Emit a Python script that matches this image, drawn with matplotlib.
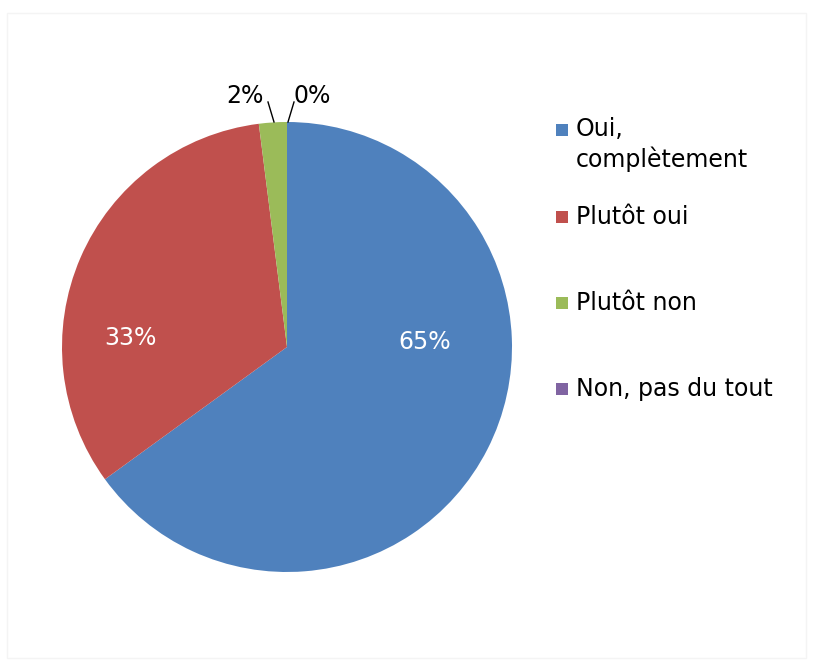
import matplotlib
matplotlib.use("Agg")
import matplotlib.pyplot as plt
from matplotlib.patches import Rectangle

plt.rcParams['font.family'] = ['DejaVu Sans']

# reponses et parts (en %)
categories = ["Oui,\ncomplètement", "Plutôt oui", "Plutôt non", "Non, pas du tout"]
valeurs = [65, 33, 2, 0]
couleurs = ["#4F81BD", "#C0504D", "#9BBB59", "#8064A2"]

W, H = 813, 668
fig = plt.figure(figsize=(W / 100, H / 100), dpi=100)
ax = fig.add_axes([0, 0, 1, 1])

# camembert en coordonnees pixels (y vers le haut)
cx, cy, r = 287, H - 347, 225
wedges, _ = ax.pie(valeurs, colors=couleurs, startangle=90, counterclock=False,
                   center=(cx, cy), radius=r, frame=True,
                   wedgeprops=dict(linewidth=0))
ax.set_xlim(0, W)
ax.set_ylim(0, H)
ax.set_aspect('equal')
ax.axis('off')

fs = 17

# etiquettes interieures
ax.text(425, H - 342, f"{valeurs[0]}%", color="white", fontsize=fs,
        ha="center", va="center")
ax.text(130, H - 338, f"{valeurs[1]}%", color="white", fontsize=fs,
        ha="center", va="center")

# etiquettes exterieures avec traits de rappel
ax.text(245, H - 96, f"{valeurs[2]}%", color="black", fontsize=fs,
        ha="center", va="center")
ax.plot([268, 274], [H - 102, H - 122], color="black", lw=1)
ax.text(312, H - 96, f"{valeurs[3]}%", color="black", fontsize=fs,
        ha="center", va="center")
ax.plot([294, 288], [H - 102, H - 122], color="black", lw=1)

# legende
ys = [130, 217, 303, 389]
for lab, col, y in zip(categories, couleurs, ys):
    ax.add_patch(Rectangle((556, H - y - 6), 12, 12, facecolor=col, edgecolor="none"))
    if "\n" in lab:
        ax.text(576, H - y + 13, lab, fontsize=fs, ha="left", va="top",
                linespacing=1.27)
    else:
        ax.text(576, H - y, lab, fontsize=fs, ha="left", va="center")

# cadre leger
ax.add_patch(Rectangle((7, 10), W - 14, H - 23, facecolor="none",
                       edgecolor="#f4f4f4", lw=1))

fig.savefig("out.png", dpi=100)
